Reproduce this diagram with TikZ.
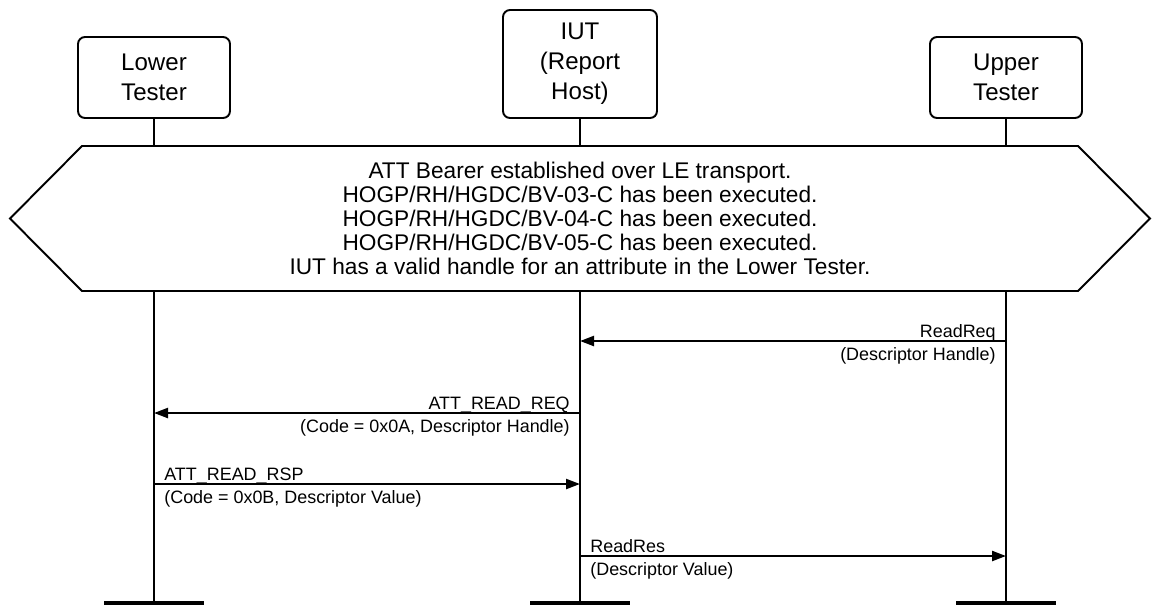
\documentclass[tikz,border=0pt]{standalone}
\usepackage{fontspec}
\setmainfont{Liberation Sans}
\usetikzlibrary{arrows.meta}

\begin{document}
\begin{tikzpicture}[
    entity/.style={draw, line width=1.1pt, rounded corners=0.14cm, minimum width=3.04cm, align=center, font=\fontsize{13.7}{17.1}\selectfont},
    life/.style={line width=1.3pt},
    msg/.style={line width=1.3pt, -{Triangle[length=0.28cm,width=0.2cm]}},
    lbl/.style={font=\fontsize{10.2}{12}\selectfont, inner sep=0pt},
    bar/.style={line width=2.8pt}
]
        \useasboundingbox (0,0) rectangle (23.04,-12.08);

        \node[entity, minimum height=1.62cm] (lt) at (3.08, -1.55) {Lower\\Tester};
        \node[entity, minimum height=2.16cm, minimum width=3.08cm] (iut) at (11.6, -1.28) {IUT\\(Report\\Host)};
        \node[entity, minimum height=1.62cm] (ut) at (20.12, -1.55) {Upper\\Tester};

        \coordinate (ltend) at (3.08, -12.06);
        \coordinate (iutend) at (11.6, -12.06);
        \coordinate (utend) at (20.12, -12.06);

        \draw[life] (lt) -- (ltend);
        \draw[life] (iut) -- (iutend);
        \draw[life] (ut) -- (utend);

        \draw[bar] ([xshift=-1cm]ltend) -- ([xshift=1cm]ltend);
        \draw[bar] ([xshift=-1cm]iutend) -- ([xshift=1cm]iutend);
        \draw[bar] ([xshift=-1cm]utend) -- ([xshift=1cm]utend);

        \draw[line width=1.1pt, fill=white] (0.2, -4.37) -- (1.64, -2.92) -- (21.56, -2.92) -- (23.0, -4.37) -- (21.56, -5.82) -- (1.64, -5.82) -- cycle;
        \node[align=center, font=\fontsize{12.9}{13.7}\selectfont] (setup) at (11.6, -4.37) {ATT Bearer established over LE transport.\\HOGP/RH/HGDC/BV-03-C has been executed.\\HOGP/RH/HGDC/BV-04-C has been executed.\\HOGP/RH/HGDC/BV-05-C has been executed.\\IUT has a valid handle for an attribute in the Lower Tester.};

        \coordinate (ut1) at (20.12, -6.82);
        \coordinate (iut1) at (11.6, -6.82);
        \coordinate (iut2) at (11.6, -8.26);
        \coordinate (lt2) at (3.08, -8.26);
        \coordinate (lt3) at (3.08, -9.68);
        \coordinate (iut3) at (11.6, -9.68);
        \coordinate (iut4) at (11.6, -11.12);
        \coordinate (ut4) at (20.12, -11.12);

        \draw[msg] (ut1) -- (iut1);
        \node[lbl, anchor=base east] (req) at ([xshift=-0.2cm, yshift=0.08cm]ut1) {ReadReq};
        \node[lbl, anchor=base east] (reqarg) at ([xshift=-0.2cm, yshift=-0.38cm]ut1) {(Descriptor Handle)};

        \draw[msg] (iut2) -- (lt2);
        \node[lbl, anchor=base east] (attreq) at ([xshift=-0.2cm, yshift=0.08cm]iut2) {ATT\_READ\_REQ};
        \node[lbl, anchor=base east] (attreqarg) at ([xshift=-0.2cm, yshift=-0.38cm]iut2) {(Code = 0x0A, Descriptor Handle)};

        \draw[msg] (lt3) -- (iut3);
        \node[lbl, anchor=base west] (attrsp) at ([xshift=0.2cm, yshift=0.08cm]lt3) {ATT\_READ\_RSP};
        \node[lbl, anchor=base west] (attrsparg) at ([xshift=0.2cm, yshift=-0.38cm]lt3) {(Code = 0x0B, Descriptor Value)};

        \draw[msg] (iut4) -- (ut4);
        \node[lbl, anchor=base west] (res) at ([xshift=0.2cm, yshift=0.08cm]iut4) {ReadRes};
        \node[lbl, anchor=base west] (resarg) at ([xshift=0.2cm, yshift=-0.38cm]iut4) {(Descriptor Value)};
    \end{tikzpicture}
\end{document}
